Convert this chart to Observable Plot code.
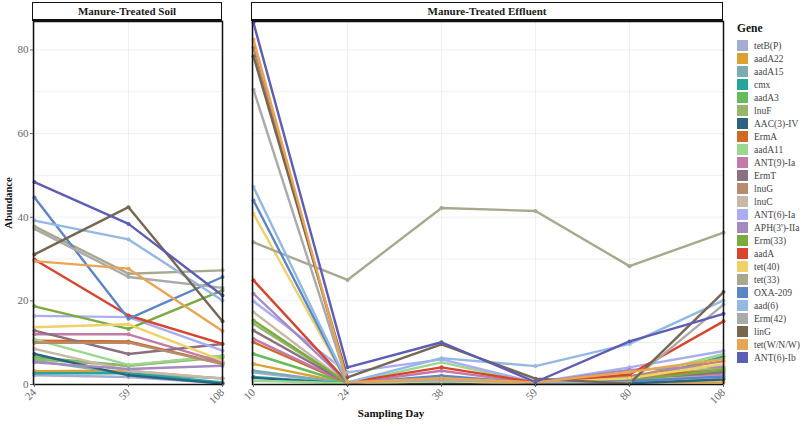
<!DOCTYPE html>
<html>
<head>
<meta charset="utf-8">
<script src="https://cdn.jsdelivr.net/npm/d3@7"></script>
<script src="https://cdn.jsdelivr.net/npm/@observablehq/plot@0.6"></script>
<style>
  body { margin: 0; background: #fff; }
  #chart { position: relative; width: 800px; height: 425px; font-family: "Liberation Serif", serif; overflow: hidden; }
  .panel { position: absolute; top: 0; }
  .strip { position: absolute; top: 2px; height: 16px; border: 1.5px solid #111; border-bottom: 2.5px solid #111; box-sizing: content-box;
           font-weight: bold; font-size: 11px; text-align: center; line-height: 16px; color: #1a1a1a; background: #fff; }
  .ylab { position: absolute; font-weight: bold; font-size: 10.5px; color: #111; white-space: nowrap; }
  .xlab { position: absolute; top: 407px; font-weight: bold; font-size: 11px; color: #111; white-space: nowrap; transform: translateX(-50%); }
  #legend { position: absolute; left: 737px; top: 22px; }
  #legend .title { font-weight: bold; font-size: 11.5px; color: #111; height: 17px; }
  #legend .item { display: flex; align-items: center; height: 13px; font-size: 9.5px; color: #444; }
  #legend .sw { width: 11px; height: 11px; margin-right: 6px; }
</style>
</head>
<body>
<div id="chart"></div>
<script>
const genes = ["tetB(P)","aadA22","aadA15","cmx","aadA3","lnuF","AAC(3)-IV","ErmA","aadA11","ANT(9)-Ia","ErmT","lnuG","lnuC","ANT(6)-Ia","APH(3')-IIa","Erm(33)","aadA","tet(40)","tet(33)","OXA-209","aad(6)","Erm(42)","linG","tet(W/N/W)","ANT(6)-Ib"];
const colors = ["#a4acd4","#dca131","#7aacb1","#26a59a","#66bc5c","#97b669","#2b6480","#cf6a25","#9bd88f","#c27aa8","#8a7080","#b88a70","#c8b8a8","#aaaef0","#a48ac0","#7aab3e","#d8452f","#f0d069","#a8a88e","#5a86c6","#93b8e6","#aaaaaa","#776650","#e8a553","#5d5db5"];

const soilDays = ["24","59","108"];
const effluentDays = ["10","24","38","59","80","108"];
const yTicks = [0, 20, 40, 60, 80];
const yGrid = [0, 10, 20, 30, 40, 50, 60, 70, 80];

// values per gene (same order as genes), one per sampling day
const soilValues = [
  [2.2, 1.8, 0.3],
  [3.2, 3.3, 1.4],
  [5.7, 2.5, 1.5],
  [2.7, 2.7, 0.5],
  [6.5, 4.5, 6.9],
  [6.0, 4.5, 6.5],
  [7.3, 2.2, 0.2],
  [10.5, 10.3, 5.0],
  [10.8, 4.7, 6.8],
  [12.0, 12.0, 5.3],
  [12.9, 7.3, 9.7],
  [10.0, 10.0, 4.9],
  [8.5, 3.3, 1.4],
  [16.4, 16.1, 8.1],
  [5.3, 3.7, 4.5],
  [18.7, 13.3, 22.5],
  [29.9, 16.5, 9.7],
  [13.7, 14.4, 5.7],
  [37.8, 26.5, 27.3],
  [44.7, 15.7, 25.7],
  [39.2, 34.7, 20.1],
  [37.2, 25.7, 23.1],
  [31.1, 42.4, 15.1],
  [29.5, 27.7, 12.8],
  [48.4, 38.4, 21.3]
];
const effluentValues = [
  [2.9, 0.3, 0.8, 0.3, 1.0, 1.5],
  [4.9, 0.3, 0.8, 0.3, 0.5, 0.5],
  [3.3, 0.3, 0.5, 0.3, 0.5, 2.5],
  [1.8, 0.2, 0.3, 0.2, 0.5, 6.7],
  [7.3, 0.3, 1.0, 0.3, 1.0, 3.8],
  [14.5, 0.3, 1.0, 0.3, 1.5, 4.0],
  [1.6, 0.2, 0.3, 0.2, 0.3, 1.2],
  [10.1, 0.3, 1.0, 0.3, 2.0, 3.3],
  [0.9, 0.3, 5.3, 0.3, 1.5, 7.3],
  [10.9, 0.3, 3.3, 0.3, 1.5, 2.5],
  [12.9, 0.3, 1.2, 0.3, 1.2, 3.0],
  [80.5, 0.5, 1.2, 0.5, 2.0, 5.6],
  [17.3, 0.3, 0.8, 0.3, 1.0, 2.0],
  [19.9, 2.9, 6.0, 0.5, 4.1, 8.0],
  [21.7, 0.5, 1.5, 0.5, 3.5, 4.3],
  [15.3, 0.3, 0.8, 0.3, 1.0, 3.5],
  [24.9, 0.5, 4.1, 0.5, 2.4, 15.1],
  [40.8, 0.3, 0.8, 0.3, 1.5, 4.9],
  [34.0, 25.0, 42.2, 41.5, 28.3, 36.3],
  [44.0, 0.3, 2.1, 0.3, 0.8, 1.9],
  [47.2, 0.5, 6.3, 4.4, 9.7, 20.1],
  [70.5, 0.5, 1.0, 0.5, 0.5, 19.1],
  [78.5, 1.7, 9.6, 1.4, 0.2, 22.1],
  [82.5, 0.5, 1.5, 0.5, 3.0, 6.1],
  [86.5, 4.1, 10.1, 0.6, 10.3, 16.9]
];

function toRows(days, values) {
  const rows = [];
  genes.forEach((g, i) => days.forEach((d, j) => rows.push({gene: g, day: d, value: values[i][j]})));
  return rows;
}

function panel(days, values, opts) {
  const rows = toRows(days, values);
  return Plot.plot({
    width: opts.width,
    height: 425,
    marginLeft: opts.marginLeft,
    marginRight: opts.marginRight,
    marginTop: 21,
    marginBottom: 41,
    style: {fontFamily: "Liberation Serif, serif", fontSize: "10px", color: "#666", background: "transparent"},
    x: {type: "point", domain: days, padding: 0, label: null},
    y: {domain: [0, 86.8], label: null},
    color: {domain: genes, range: colors},
    marks: [
      Plot.ruleY(yGrid, {stroke: "#ebebeb", strokeWidth: 0.8}),
      Plot.ruleX(days, {x: d => d, stroke: "#ebebeb", strokeWidth: 0.8}),
      Plot.lineY(rows, {x: "day", y: "value", z: "gene", stroke: "gene", strokeWidth: 2.4}),
      Plot.dot(rows, {x: "day", y: "value", fill: "gene", r: 2}),
      Plot.frame({stroke: "#111", strokeWidth: 1.5}),
      Plot.axisX({tickRotate: -45, tickSize: 3, tickPadding: 3, fill: "#666", fontSize: 11, label: null}),
      opts.yAxis
        ? Plot.axisY({ticks: yTicks, tickSize: 3, tickPadding: 2, fill: "#666", fontSize: 11, label: null})
        : Plot.axisY({ticks: [], label: null})
    ]
  });
}

const chart = document.getElementById("chart");

const left = panel(soilDays, soilValues, {width: 232, marginLeft: 33, marginRight: 10, yAxis: true});
left.classList.add("panel");
left.style.left = "0px";
chart.appendChild(left);

const right = panel(effluentDays, effluentValues, {width: 490, marginLeft: 12, marginRight: 7, yAxis: false});
right.classList.add("panel");
right.style.left = "240px";
chart.appendChild(right);

function strip(text, x, w) {
  const s = document.createElement("div");
  s.className = "strip";
  s.style.left = (x - 1) + "px";
  s.style.width = (w - 1) + "px";
  s.textContent = text;
  chart.appendChild(s);
}
strip("Manure-Treated Soil", 33, 189);
strip("Manure-Treated Effluent", 252, 471);

const yl = document.createElement("div");
yl.className = "ylab";
yl.style.left = "8px";
yl.style.top = "203px";
yl.style.transform = "translate(-50%, -50%) rotate(-90deg)";
yl.textContent = "Abundance";
chart.appendChild(yl);

const xl = document.createElement("div");
xl.className = "xlab";
xl.style.left = "391px";
xl.textContent = "Sampling Day";
chart.appendChild(xl);

const legend = document.createElement("div");
legend.id = "legend";
const t = document.createElement("div");
t.className = "title";
t.textContent = "Gene";
legend.appendChild(t);
genes.forEach((g, i) => {
  const it = document.createElement("div");
  it.className = "item";
  const sw = document.createElement("div");
  sw.className = "sw";
  sw.style.background = colors[i];
  const lb = document.createElement("span");
  lb.textContent = g;
  it.appendChild(sw);
  it.appendChild(lb);
  legend.appendChild(it);
});
chart.appendChild(legend);
</script>
</body>
</html>
